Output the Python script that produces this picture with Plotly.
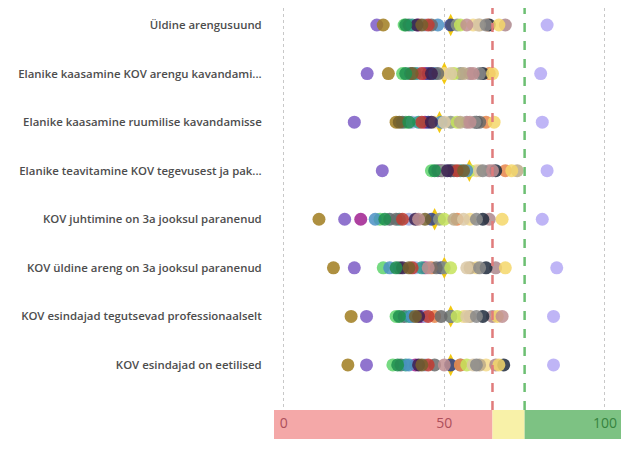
import plotly.graph_objects as go
from plotly.subplots import make_subplots

categories = [
    "Üldine arengusuund",
    "Elanike kaasamine KOV arengu kavandami...",
    "Elanike kaasamine ruumilise kavandamisse",
    "Elanike teavitamine KOV tegevusest ja pak...",
    "KOV juhtimine on 3a jooksul paranenud",
    "KOV üldine areng on 3a jooksul paranenud",
    "KOV esindajad tegutsevad professionaalselt",
    "KOV esindajad on eetilised",
]

# one colour per municipality (series)
series_colors = [
    "#b4a8f4", "#7d5cc6", "#a07d1e", "#a0208f", "#5ed36c", "#56666b",
    "#9fabe0", "#2f3f8e", "#8c9585", "#f3d98a", "#ad878c", "#e8854a",
    "#2f9f8f", "#1e2a3c", "#c5e35b", "#4b90c4", "#6a6a6a", "#c23b30",
    "#bcaa88", "#3c2050", "#74602c", "#dcc9a6", "#f5d76a", "#1f8f4f",
    "#8a8a8a", "#c08f92",
]

# score of each municipality, one list per statement (same order as series_colors)
uldine_arengusuund = [82, 29, 31, 42, 37.5, 39, 44, 52, 54, 59, 69, 63.5, 40, 64, 55, 48, 46, 45, 61, 41.5, 43, 60.5, 67, 38, 63, 57]
kaasamine_arengu = [80, 26, 32.6, 44, 37, 39.5, 42, 45, 55, 50, 58, 64, 41, 62, 53, 47, 48, 43, 56, 46, 40, 52, 65, 38, 61, 59]
kaasamine_ruumilise = [80.5, 22, 35, 44, 38, 37, 40, 45, 52, 47, 57, 63, 42, 60, 54, 49, 61, 43, 55, 46, 36, 50, 65.5, 39, 59.5, 58]
teavitamine = [82, 30.7, 52, 49, 46, 48, 50.5, 52, 49.5, 60, 64, 69, 55, 66, 58, 57, 53, 54, 72.7, 51, 56, 61, 71, 47, 62, 65]
juhtimine = [80.5, 19, 11, 24, 30, 33, 39, 46, 48.5, 58, 64, 54, 36, 62, 50, 28.5, 35, 37, 53, 41, 44, 56, 68, 31.5, 60, 42]
uldine_areng = [85, 22, 15.5, 44, 31, 36, 41, 49, 50, 60, 66, 46, 43, 63, 52, 33, 47.5, 40, 58, 37, 39, 57, 69, 35, 61, 45]
professionaalselt = [84, 25.8, 21, 43, 35, 37.5, 44, 52, 52, 56, 65, 47, 39, 62, 54, 40, 49, 45, 58, 42, 41, 57, 66.5, 36, 60, 68]
eetilised = [84, 25.8, 20, 41, 34, 36.5, 44, 52, 55, 63, 66, 55, 38, 68.5, 57, 39, 47, 45, 61, 42, 43, 59, 67, 35.5, 60, 50]

averages = [52, 50, 48.5, 57.8, 47, 50, 52, 52]

thresholds = [65, 75]
x_range = [-3, 105]
band_labels = [0, 50, 100]

rows = [uldine_arengusuund, kaasamine_arengu, kaasamine_ruumilise, teavitamine,
        juhtimine, uldine_areng, professionaalselt, eetilised]

fig = make_subplots(rows=2, cols=1, shared_xaxes=True, vertical_spacing=0,
                    row_heights=[0.9327, 0.0673])

# average markers sit behind the dots
fig.add_trace(go.Scatter(
    x=averages, y=categories, mode="markers",
    marker=dict(symbol="diamond-tall", size=16, color="#f2c811"),
    showlegend=False, hoverinfo="skip"
), row=1, col=1)

for i, color in enumerate(series_colors):
    fig.add_trace(go.Scatter(
        x=[r[i] for r in rows], y=categories, mode="markers",
        marker=dict(size=13, color=color, opacity=0.85, line=dict(width=0)),
        showlegend=False
    ), row=1, col=1)

# colour band under the chart
band_starts = [x_range[0], thresholds[0], thresholds[1]]
band_ends = [thresholds[0], thresholds[1], x_range[1]]
band_colors = ["#f4a8a8", "#f8f1a8", "#7dc283"]
for s, e, c in zip(band_starts, band_ends, band_colors):
    fig.add_trace(go.Bar(
        x=[e - s], base=[s], y=[0], orientation="h", width=1,
        marker=dict(color=c, line=dict(width=0)),
        showlegend=False, hoverinfo="skip"
    ), row=2, col=1)

fig.add_trace(go.Scatter(
    x=band_labels, y=[0] * len(band_labels), mode="text",
    text=[str(v) for v in band_labels], cliponaxis=False,
    textfont=dict(size=14, color=["#ad4f5b", "#ad4f5b", "#37843f"],
                  family="Segoe UI, Open Sans, sans-serif"),
    showlegend=False, hoverinfo="skip"
), row=2, col=1)

fig.add_vline(x=thresholds[0], line=dict(color="#e07b7b", width=2.5, dash="dash"), row=1, col=1)
fig.add_vline(x=thresholds[1], line=dict(color="#6cbf72", width=2.5, dash="dash"), row=1, col=1)

fig.update_xaxes(range=x_range, showticklabels=False, zeroline=False, showline=False,
                 automargin=False)
fig.update_xaxes(tickvals=band_labels, showgrid=True, gridcolor="#c8c8c8",
                 griddash="dot", gridwidth=1, row=1, col=1)
fig.update_xaxes(showgrid=False, row=2, col=1)

fig.update_yaxes(
    type="category", categoryorder="array", categoryarray=categories,
    range=[7.927, -0.35], showgrid=False, zeroline=False, automargin=False,
    ticks="outside", ticklen=9, tickcolor="rgba(0,0,0,0)",
    tickfont=dict(family="Segoe UI, Open Sans, sans-serif", size=11.4, color="#4d4d4d", weight=600),
    row=1, col=1
)
fig.update_yaxes(range=[-0.5, 0.5], showticklabels=False, showgrid=False,
                 zeroline=False, automargin=False, row=2, col=1)

fig.update_layout(
    width=630, height=450,
    margin=dict(l=266, r=17, t=0, b=19),
    plot_bgcolor="white", paper_bgcolor="white",
    barmode="overlay",
)

fig.write_html("out.html")
